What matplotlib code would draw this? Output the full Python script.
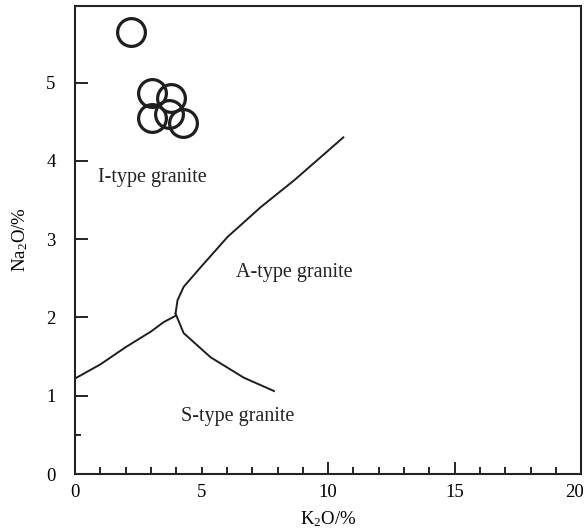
import matplotlib
matplotlib.use("Agg")
import matplotlib.pyplot as plt
import matplotlib.transforms as mtransforms
from matplotlib.ticker import MultipleLocator, FixedLocator

plt.rcParams['font.family'] = 'Liberation Serif'
plt.rcParams['mathtext.fontset'] = 'custom'
plt.rcParams['mathtext.rm'] = 'Liberation Serif'
plt.rcParams['mathtext.it'] = 'Liberation Serif:italic'

# sample points (K2O, Na2O)
k2o = [2.2, 3.05, 3.8, 3.05, 3.7, 4.25]
na2o = [5.65, 4.87, 4.8, 4.55, 4.6, 4.48]

# field boundaries
lower_x = [0.0, 1.0, 2.0, 3.0, 3.5, 3.97]
lower_y = [1.22, 1.40, 1.62, 1.82, 1.94, 2.02]
upper_x = [3.97, 4.05, 4.29, 4.96, 6.03, 7.34, 8.65, 10.6]
upper_y = [2.05, 2.22, 2.39, 2.64, 3.03, 3.41, 3.75, 4.3]
s_x = [3.97, 4.29, 5.36, 6.67, 7.86]
s_y = [2.05, 1.80, 1.49, 1.23, 1.06]

x_ticks = [0, 5, 10, 15, 20]
y_ticks = [0, 1, 2, 3, 4, 5]

fig = plt.figure(figsize=(5.88, 5.32), dpi=100)
ax = fig.add_axes([0.1276, 0.109, 0.861, 0.880])

lc = '#1e1e1e'
ax.plot(lower_x, lower_y, color=lc, lw=1.4)
ax.plot(upper_x, upper_y, color=lc, lw=1.4)
ax.plot(s_x, s_y, color=lc, lw=1.4)

ax.plot(k2o, na2o, 'o', ms=20, mfc='none', mec=lc, mew=2.3, ls='none')

tc = '#222222'
ax.text(3.07, 3.79, 'I-type granite', fontsize=14.5, ha='center', va='center', color=tc)
ax.text(8.65, 2.57, 'A-type granite', fontsize=14.5, ha='center', va='center', color=tc)
ax.text(4.2, 0.73, 'S-type granite', fontsize=14.5, ha='left', va='center', color=tc)

ax.set_xlim(0, 20)
ax.set_ylim(0, 5.98)
ax.xaxis.set_major_locator(FixedLocator(x_ticks))
ax.xaxis.set_minor_locator(MultipleLocator(1))
ax.yaxis.set_major_locator(FixedLocator(y_ticks))
ax.yaxis.set_minor_locator(FixedLocator([0.5]))
ax.tick_params(axis='x', which='major', direction='in', length=9, width=1.2, pad=7, labelsize=13.5)
ax.tick_params(axis='x', which='minor', direction='in', length=5, width=1.2)
ax.tick_params(axis='y', which='major', direction='in', length=9, width=1.2, pad=14, labelsize=13.5)
ax.tick_params(axis='y', which='minor', direction='in', length=4, width=1.2)
for s in ax.spines.values():
    s.set_linewidth(1.5)
    s.set_color(tc)

ax.set_xlabel('K$_2$O/%', fontsize=13.5, labelpad=6)
ax.set_ylabel('Na$_2$O/%', fontsize=13.5, labelpad=12)

# the tick at 5 is drawn short like the minor ones
xt = ax.xaxis.get_major_ticks()
xt[1].tick1line.set_markersize(5)
# pull the last label ("20") in so it stays inside the figure
shift = mtransforms.ScaledTranslation(-5 / 72, 0, fig.dpi_scale_trans)
xt[4].label1.set_transform(xt[4].label1.get_transform() + shift)

fig.savefig('out.png', dpi=100)
